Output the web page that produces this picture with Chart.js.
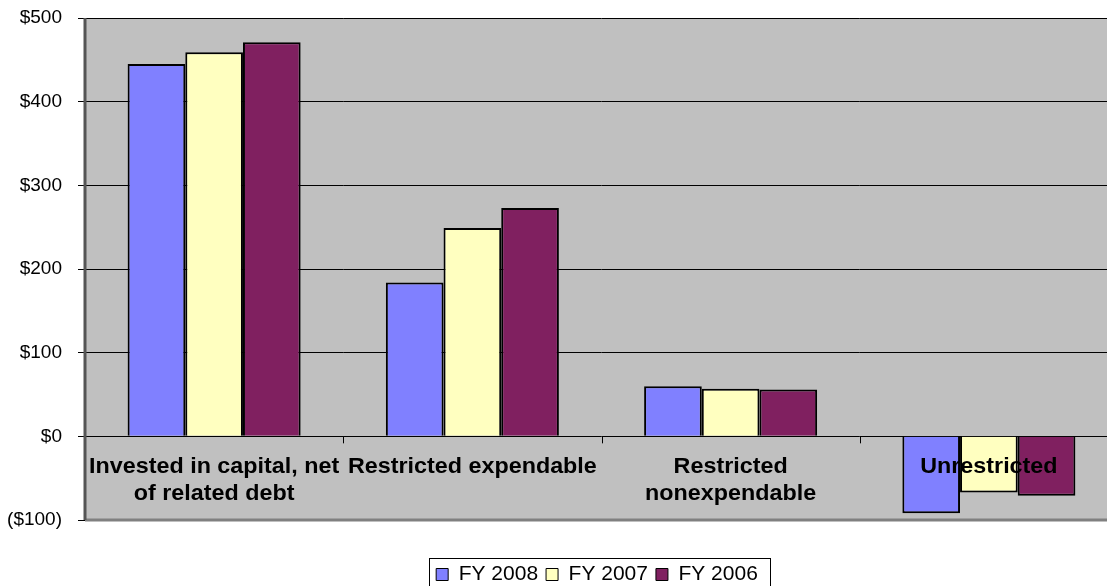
<!DOCTYPE html>
<html>
<head>
<meta charset="utf-8">
<script src="https://cdn.jsdelivr.net/npm/chart.js@4"></script>
<style>
  html, body { margin: 0; padding: 0; background: #fff; overflow: hidden; }
  #wrap { width: 1107px; height: 586px; overflow: hidden; }
</style>
</head>
<body>
<div id="wrap"><canvas id="netAssets" width="1118" height="586"></canvas></div>
<script>
var categories = [["Invested in capital, net", "of related debt"], "Restricted expendable", ["Restricted", "nonexpendable"], "Unrestricted"];
var fy2008 = [445, 184, 60, -92];
var fy2007 = [459, 249, 57, -67];
var fy2006 = [471, 273, 56, -71];
var yTicks = [-100, 0, 100, 200, 300, 400, 500];

var FONT = "'Liberation Sans', Arial, sans-serif";
var LEGEND_SHIFT_X = 38, LEGEND_SHIFT_Y = 9;

// grey plot area, borders and the category ticks on the zero line
var plotArea = {
  id: 'plotArea',
  beforeDraw: function (chart) {
    var a = chart.chartArea, ctx = chart.ctx;
    ctx.save();
    ctx.fillStyle = '#C0C0C0';
    ctx.fillRect(a.left, a.top, a.right - a.left, a.bottom - a.top);
    ctx.restore();
    // the legend sits a little right of centre in the original
    var l = chart.legend;
    if (l && !l._shifted) {
      l.left += LEGEND_SHIFT_X; l.right += LEGEND_SHIFT_X;
      l.top += LEGEND_SHIFT_Y; l.bottom += LEGEND_SHIFT_Y;
      l._shifted = true;
    }
  },
  afterDatasetsDraw: function (chart) {
    var a = chart.chartArea, ctx = chart.ctx;
    var x = chart.scales.x, y = chart.scales.y;
    var zero = y.getPixelForValue(0);
    ctx.save();
    ctx.strokeStyle = '#808080';
    ctx.lineWidth = 3;
    ctx.beginPath();
    ctx.moveTo(a.left, a.bottom);
    ctx.lineTo(a.right, a.bottom);
    ctx.stroke();
    ctx.strokeStyle = '#555';
    ctx.lineWidth = 3;
    ctx.beginPath();
    ctx.moveTo(a.left, a.top);
    ctx.lineTo(a.left, a.bottom);
    ctx.stroke();
    // ticks between categories
    ctx.strokeStyle = '#000';
    ctx.lineWidth = 1;
    var step = (a.right - a.left) / categories.length;
    for (var i = 1; i < categories.length; i++) {
      var px = Math.round(a.left + step * i) + 0.5;
      ctx.beginPath();
      ctx.moveTo(px, zero);
      ctx.lineTo(px, zero + 7);
      ctx.stroke();
    }
    // category labels just under the zero line (slightly wide, like the original)
    ctx.fillStyle = '#000';
    ctx.font = 'bold 22px ' + FONT;
    ctx.textAlign = 'center';
    ctx.textBaseline = 'middle';
    categories.forEach(function (c, i) {
      var lines = Array.isArray(c) ? c : [c];
      var cx = x.getPixelForValue(i);
      lines.forEach(function (t, j) {
        ctx.save();
        ctx.translate(cx, zero + 31 + j * 27);
        ctx.scale(1.06, 1);
        ctx.fillText(t, 0, 0);
        ctx.restore();
      });
    });
    ctx.restore();
  },
  afterDraw: function (chart) {
    // frame around the legend
    var l = chart.legend, ctx = chart.ctx;
    if (!l || !l.legendHitBoxes.length) return;
    var first = l.legendHitBoxes[0], last = l.legendHitBoxes[l.legendHitBoxes.length - 1];
    var left = Math.round(first.left + LEGEND_SHIFT_X) - 6.5;
    var right = Math.round(last.left + last.width + LEGEND_SHIFT_X) + 12.5;
    ctx.save();
    ctx.strokeStyle = '#000';
    ctx.lineWidth = 1;
    ctx.strokeRect(left, 558.5, right - left, 40);
    ctx.restore();
  }
};

var ctx = document.getElementById('netAssets').getContext('2d');
var chart = new Chart(ctx, {
  type: 'bar',
  data: {
    labels: categories,
    datasets: [
      { label: 'FY 2008', data: fy2008, backgroundColor: '#8080FF', borderColor: '#000', borderWidth: 2 },
      { label: 'FY 2007', data: fy2007, backgroundColor: '#FFFFC0', borderColor: '#000', borderWidth: 2 },
      { label: 'FY 2006', data: fy2006, backgroundColor: '#802060', borderColor: '#000', borderWidth: 2 }
    ]
  },
  options: {
    responsive: false,
    animation: false,
    layout: { padding: { top: 18, right: 0, left: 0, bottom: 0 } },
    datasets: { bar: { barPercentage: 1, categoryPercentage: 0.67 } },
    scales: {
      x: {
        grid: { display: false },
        border: { display: false },
        ticks: { display: false },
        afterFit: function (s) { s.height = 27; }
      },
      y: {
        min: -100,
        max: 500,
        afterBuildTicks: function (s) { s.ticks = yTicks.map(function (v) { return { value: v }; }); },
        afterFit: function (s) { s.width = 85; s.paddingTop = 0; s.paddingBottom = 0; },
        grid: { color: '#000', lineWidth: 1, tickLength: 7, tickColor: '#000' },
        border: { display: false },
        ticks: {
          color: '#000',
          padding: 16,
          font: { family: FONT, size: 19 },
          callback: function (v) { return v < 0 ? '($' + (-v) + ')' : '$' + v; }
        }
      }
    },
    plugins: {
      tooltip: { enabled: false },
      legend: {
        position: 'bottom',
        labels: {
          color: '#000',
          font: { family: FONT, size: 21 },
          boxWidth: 12,
          boxHeight: 12,
          padding: 8,
          generateLabels: function (c) {
            return c.data.datasets.map(function (d, i) {
              return { text: d.label, fillStyle: d.backgroundColor, strokeStyle: '#000', lineWidth: 1, datasetIndex: i, fontColor: '#000' };
            });
          }
        }
      }
    }
  },
  plugins: [plotArea]
});
</script>
</body>
</html>
